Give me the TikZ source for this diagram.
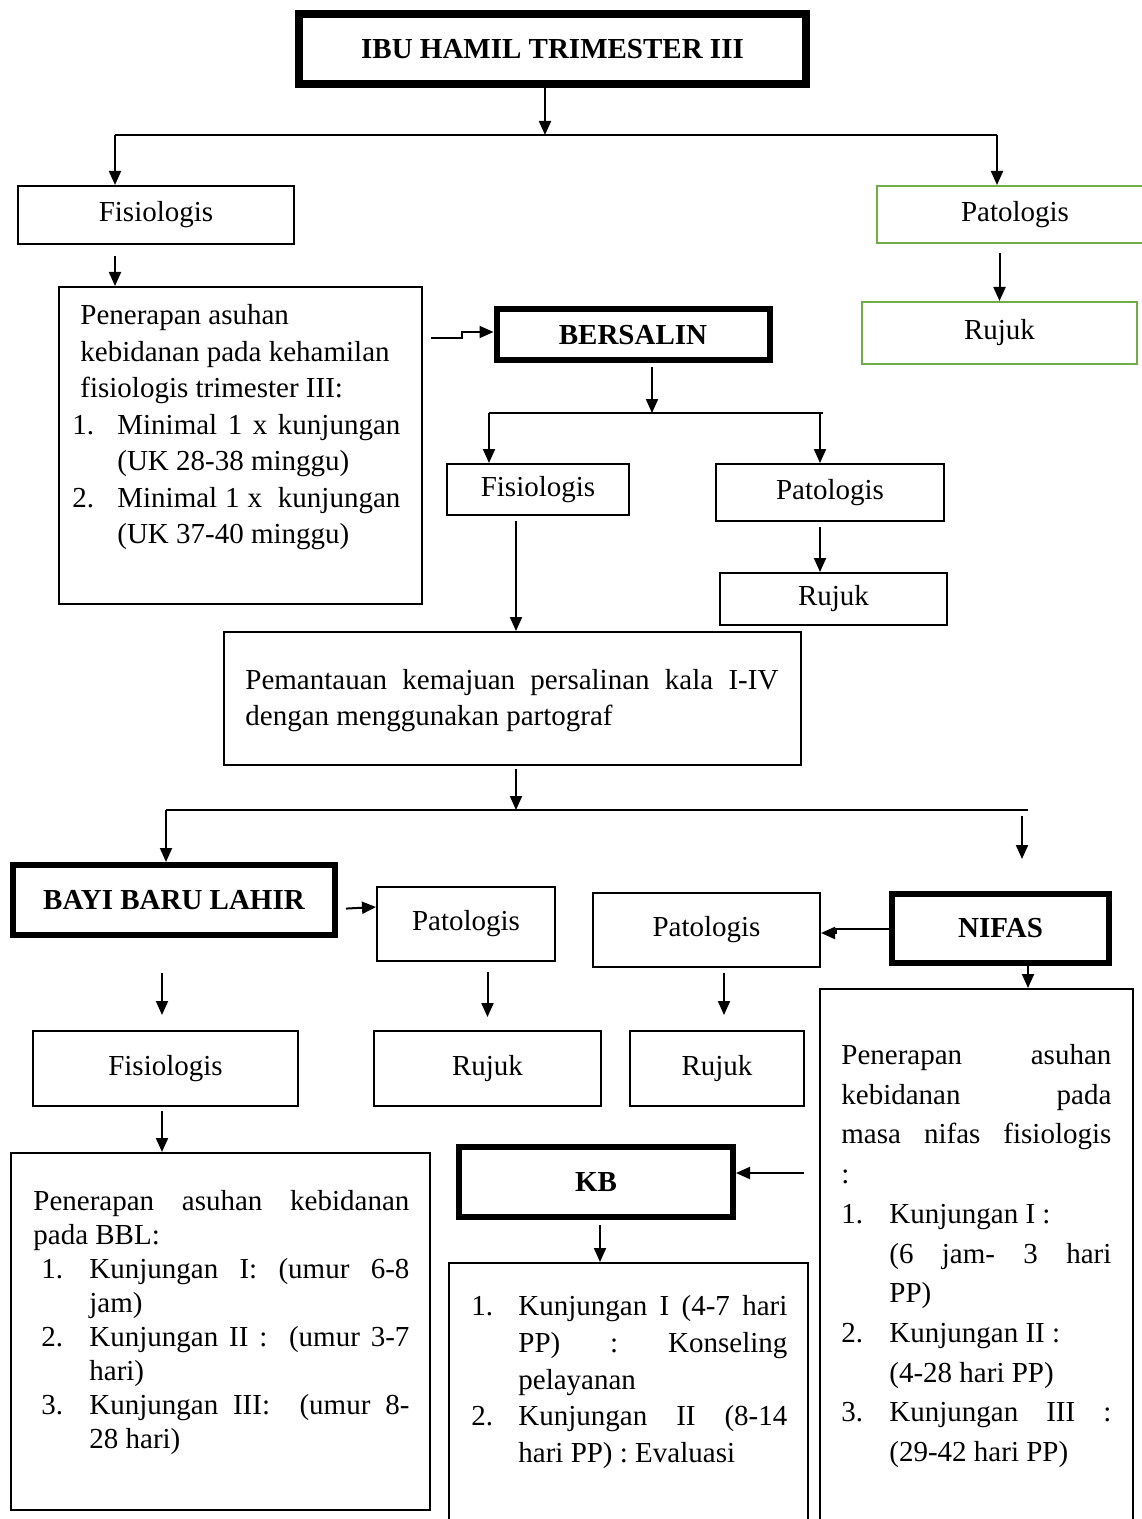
\documentclass[tikz,border=0pt]{standalone}
\usepackage{fontspec}
\setmainfont{Liberation Serif}
\usetikzlibrary{arrows.meta,calc}
\definecolor{grn}{HTML}{70AD47}
\begin{document}
\begin{tikzpicture}[x=0.5pt,y=-0.5pt,
  font=\fontsize{14.5}{18}\selectfont,
  bx/.style={draw, line width=1pt, inner sep=0pt, align=center},
  hbx/.style={draw, line width=3pt, inner sep=0pt, font=\fontsize{14.5}{18}\selectfont\bfseries},
  gbx/.style={bx, draw=grn},
  arr/.style={-{Triangle[width=6pt,length=7pt]}, line width=1pt},
  ln/.style={line width=0.8pt},
  txt/.style={anchor=north west, inner sep=0pt, align=left}]
\useasboundingbox (0,0) rectangle (1141,1519);

% boxes
\node[hbx, line width=4pt, minimum width=253.5pt, minimum height=35pt] (ibu) at (552.5,49) {IBU HAMIL TRIMESTER III};
\node[bx, minimum width=138pt, minimum height=29pt] (fis1) at (156,215) {Fisiologis};
\node[gbx, minimum width=138pt, minimum height=28.5pt] (pat1) at (1015,214.5) {Patologis};
\node[gbx, minimum width=137.5pt, minimum height=31pt] (rujuk1) at (999.5,333) {Rujuk};
\node[bx, minimum width=181.5pt, minimum height=158.5pt] (box1) at (240.5,445.5) {};
\node[txt, font=\fontsize{14.5}{18.25}\selectfont] (t1) at (72,304) {%
\hspace*{4pt}Penerapan asuhan\\
\hspace*{4pt}kebidanan pada kehamilan\\
\hspace*{4pt}fisiologis trimester III:\\
\makebox[22.5pt][l]{1.}\makebox[141.5pt][s]{Minimal 1 x kunjungan}\\
\hspace*{22.5pt}(UK 28-38 minggu)\\
\makebox[22.5pt][l]{2.}\makebox[141.5pt][s]{Minimal 1 x\ \ kunjungan}\\
\hspace*{22.5pt}(UK 37-40 minggu)};
\node[hbx, minimum width=136.5pt, minimum height=25.5pt] (bers) at (633,335) {BERSALIN};
\node[bx, minimum width=91pt, minimum height=25.5pt] (fis2) at (538,489.5) {Fisiologis};
\node[bx, minimum width=114pt, minimum height=28.5pt] (pat2) at (830,492.5) {Patologis};
\node[bx, minimum width=113.5pt, minimum height=26pt] (rujuk2) at (833.5,599) {Rujuk};
\node[bx, minimum width=288.5pt, minimum height=66.5pt] (pem) at (512.5,698.5) {};
\node[txt] (tpem) at (245,669) {%
\makebox[266.5pt][s]{Pemantauan kemajuan persalinan kala I-IV}\\
dengan menggunakan partograf};
\node[hbx, minimum width=161pt, minimum height=35pt] (bbl) at (174,900) {BAYI BARU LAHIR};
\node[bx, minimum width=89pt, minimum height=37pt] (pat3) at (466,924) {Patologis};
\node[bx, minimum width=132.5pt, minimum height=37.5pt] (fis3) at (165.5,1068.5) {Fisiologis};
\node[bx, minimum width=113.5pt, minimum height=37.5pt] (rujuk3) at (487.5,1068.5) {Rujuk};
\node[bx, minimum width=113.5pt, minimum height=37pt] (pat4) at (706.5,930) {Patologis};
\node[hbx, minimum width=108.5pt, minimum height=34.5pt] (nifas) at (1000.5,928.5) {NIFAS};
\node[bx, minimum width=87pt, minimum height=37.5pt] (rujuk4) at (717,1068.5) {Rujuk};
\node[bx, minimum width=156.5pt, minimum height=270.5pt] (nbox) at (976.5,1259.5) {};
\node[txt, font=\fontsize{14.5}{19.85}\selectfont] (tn) at (841,1044) {%
\makebox[135pt][s]{Penerapan asuhan}\\
\makebox[135pt][s]{kebidanan pada}\\
\makebox[135pt][s]{masa nifas fisiologis}\\
:\\
\makebox[24pt][l]{1.}Kunjungan I :\\
\hspace*{24pt}\makebox[111pt][s]{(6 jam- 3 hari}\\
\hspace*{24pt}PP)\\
\makebox[24pt][l]{2.}Kunjungan II :\\
\hspace*{24pt}(4-28 hari PP)\\
\makebox[24pt][l]{3.}\makebox[111pt][s]{Kunjungan III :}\\
\hspace*{24pt}(29-42 hari PP)};
\node[bx, minimum width=209.5pt, minimum height=178.5pt] (bblbox) at (220.5,1331.5) {};
\node[txt, font=\fontsize{14.5}{17}\selectfont] (tb) at (33,1190) {%
\makebox[188pt][s]{Penerapan asuhan kebidanan}\\
pada BBL:\\
\hspace*{4pt}\makebox[24pt][l]{1.}\makebox[160pt][s]{Kunjungan I: (umur 6-8}\\
\hspace*{28pt}jam)\\
\hspace*{4pt}\makebox[24pt][l]{2.}\makebox[160pt][s]{Kunjungan II :\ \ (umur 3-7}\\
\hspace*{28pt}hari)\\
\hspace*{4pt}\makebox[24pt][l]{3.}\makebox[160pt][s]{Kunjungan III:\ \ (umur 8-}\\
\hspace*{28pt}28 hari)};
\node[hbx, minimum width=137pt, minimum height=35pt] (kb) at (596,1182) {KB};
\node[bx, minimum width=179.5pt, minimum height=138.5pt] (kbbox) at (628.5,1401.5) {};
\node[txt, font=\fontsize{14.5}{18.4}\selectfont] (tk) at (471,1295) {%
\makebox[23.5pt][l]{1.}\makebox[134.5pt][s]{Kunjungan I (4-7 hari}\\
\hspace*{23.5pt}\makebox[134.5pt][s]{PP) : Konseling}\\
\hspace*{23.5pt}pelayanan\\
\makebox[23.5pt][l]{2.}\makebox[134.5pt][s]{Kunjungan II (8-14}\\
\hspace*{23.5pt}hari PP) : Evaluasi};

% connectors
\coordinate (j1) at (545,135);
\coordinate (jl1) at (115,135);
\coordinate (jr1) at (997,135);
\draw[arr] (ibu.south -| j1) -- (j1);
\draw[ln] (jl1) -- (jr1);
\draw[arr] (jl1) -- (jl1 |- fis1.north);
\draw[arr] (jr1) -- (jr1 |- pat1.north);
\draw[arr, shorten <=5.5pt] (fis1.south -| jl1) -- (jl1 |- box1.north);
\draw[arr, shorten <=4.5pt] (pat1.south -| rujuk1.north) -- (rujuk1.north);
\draw[arr] ($(box1.east |- 0,338)+(8,0)$) -- (462,338) -- (462,332) -- (bers.west |- 0,332);

\coordinate (j2) at (652,413);
\coordinate (jl2) at (489,413);
\coordinate (jr2) at (820,413);
\draw[arr, shorten <=2pt] (bers.south -| j2) -- (j2);
\draw[ln] (jl2) -- ($(jr2)+(3,0)$);
\draw[arr] (jl2) -- (jl2 |- fis2.north);
\draw[arr] (jr2) -- (jr2 |- pat2.north);
\draw[arr, shorten <=2.5pt] (pat2.south -| jr2) -- (jr2 |- rujuk2.north);

\coordinate (jm) at (516,810);
\draw[arr, shorten <=2.5pt] (fis2.south -| jm) -- (jm |- pem.north);
\draw[arr, shorten <=1.5pt] (pem.south -| jm) -- (jm);
\coordinate (jl3) at (166,810);
\coordinate (jr3) at (1028,810);
\coordinate (jr3b) at (1022,810);
\draw[ln] (jl3) -- (jr3);
\draw[arr] (jl3) -- (jl3 |- bbl.north);
\draw[arr, shorten <=3pt, shorten >=16pt] (jr3b) -- (jr3b |- nifas.north);

\draw[arr, shorten <=4pt] (bbl.east |- 0,909) -- (pat3.west |- 0,907);
\draw[arr, shorten <=17.5pt, shorten >=7.5pt] (bbl.south -| 162,0) -- (fis3.north -| 162,0);
\draw[arr, shorten <=5pt, shorten >=6.5pt] (pat3.south -| rujuk3.north) -- (rujuk3.north);
\draw[arr] (nifas.west |- 0,929) -- (836,929) -- (836,933) -- (pat4.east |- 0,933);
\draw[arr, shorten <=2.5pt, shorten >=7.5pt] (pat4.south -| 724,0) -- (rujuk4.north -| 724,0);
\draw[arr] (nifas.south -| 1028,0) -- (nbox.north -| 1028,0);
\draw[arr, shorten <=2pt] (fis3.south -| 162,0) -- (bblbox.north -| 162,0);
\draw[arr, shorten <=7.5pt] (nbox.west |- 0,1173) -- (kb.east |- 0,1173);
\draw[arr, shorten <=2.5pt] (kb.south -| 600,0) -- (kbbox.north -| 600,0);
\end{tikzpicture}
\end{document}
